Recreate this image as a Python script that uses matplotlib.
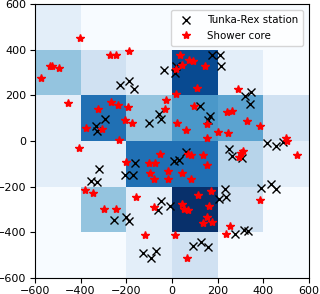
import numpy as np
import matplotlib
matplotlib.use("Agg")
import matplotlib.pyplot as plt

# bin edges of the density map (m)
edges = [-600, -400, -200, 0, 200, 400, 600]

# cell values, rows from bottom (y=-600..-400) to top (y=400..600)
density = [
    [0, 0, 1, 2, 0, 0],
    [0, 4, 1, 10, 2, 0],
    [1, 1, 7.5, 7.5, 3, 1],
    [1, 7.5, 4, 6, 5.5, 2],
    [4, 2, 1, 9, 1, 0],
    [1, 0, 0, 0, 0, 0],
]

station_x = [176, 211, 214, -36, 16, 15, -190, -226, -166, 319, 347, 340, 122,
             -57, -47, -102, 165, 157, -293, -331, -327, 417, 456, 486, 249, 262,
             306, 63, 7, 29, -160, -318, -356, -327, -206, -169, 388, 432, 453,
             230, 207, 236, -50, -60, -10, -252, -203, -188, 277, 316, 334, 90,
             128, 157, -128, -90, -69]
station_y = [378, 378, 330, 312, 328, 299, 264, 245, 230, 195, 214, 162, 155,
             120, 95, 80, 109, 90, 95, 64, 44, -9, -22, -4, -36, -66,
             -74, -50, -89, -82, -96, -125, -175, -178, -149, -149, -206, -188, -211,
             -211, -255, -245, -264, -303, -286, -347, -332, -351, -408, -391, -394, -461,
             -443, -464, -493, -512, -481]

core_x = [-404, -273, -243, -188, -572, -532, -526, -494, -455, 36, 74, 92, 42,
          19, 146, 111, 290, 19, -322, -265, -236, -194, -206, -173, -378, -306,
          -230, -407, -25, -32, 96, 20, 60, 152, 152, 200, 246, 239, 261, 330,
          386, 497, 503, 545, 293, 300, 311, -52, -201, -101, -74, -95, -77, -19,
          -19, 45, 71, 85, 136, 153, 82, -382, -344, -296, -246, -159, -80, 45,
          54, 69, 114, 172, 163, 152, 137, 175, 252, 235, 386, -117, 15, 64]
core_y = [452, 378, 378, 394, 276, 327, 330, 319, 166, 379, 353, 350, 331,
          316, 327, 233, 230, 204, 141, 171, 159, 147, 93, 79, 57, 52,
          3, -31, 181, 139, 155, 77, 47, 76, 13, 38, 35, 128, 131, 87,
          66, 13, -1, -60, -70, -53, -44, -55, -92, -98, -95, -139, -168, -131,
          -166, -139, -58, -63, -63, -106, -168, -213, -230, -297, -300, -245, -289, -277,
          -300, -303, -238, -219, -286, -335, -360, -354, -373, -408, -260, -413, -414, -513]

fig = plt.figure(figsize=(3.2, 2.94), dpi=100)
ax = fig.add_axes([0.109, 0.055, 0.857, 0.931])

ax.pcolormesh(edges, edges, np.array(density), cmap="Blues", vmin=0, vmax=10)
ax.plot(station_x, station_y, "x", color="black", markersize=6, mew=1.0,
        linestyle="none", label="Tunka-Rex station")
ax.plot(core_x, core_y, "*", color="red", markersize=6,
        linestyle="none", label="Shower core")

ax.set_xlim(-600, 600)
ax.set_ylim(-600, 600)
ax.set_xticks(range(-600, 601, 200))
ax.set_yticks(range(-600, 601, 200))
ax.tick_params(labelsize=8, pad=2.5)
ax.legend(loc="upper right", fontsize=7.4, handletextpad=1.0, borderpad=0.5,
          borderaxespad=0.6)

fig.savefig("out.png", dpi=100)
